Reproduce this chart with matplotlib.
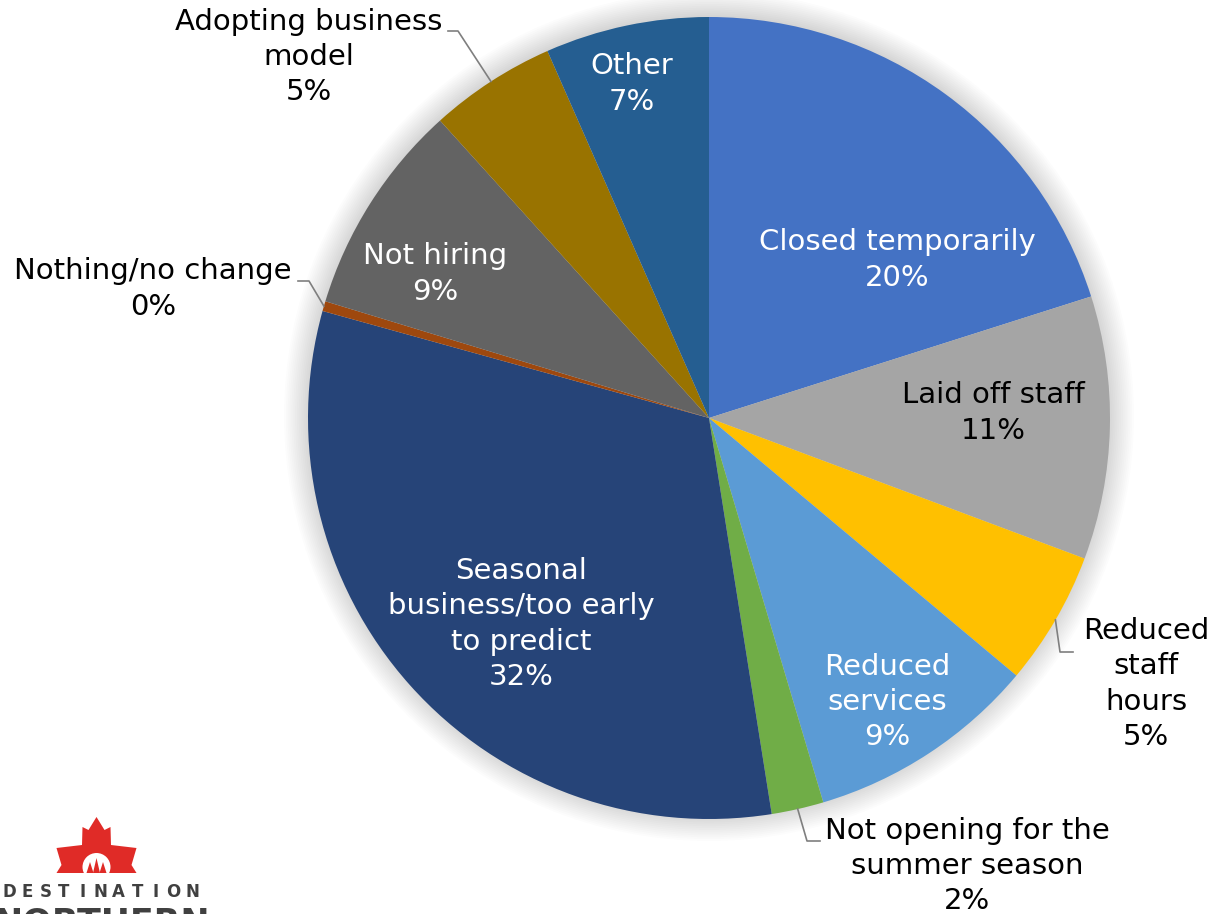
import matplotlib.pyplot as plt
import numpy as np
from matplotlib.patches import Circle, Polygon

# data
categories = ["Closed temporarily", "Laid off staff", "Reduced\nstaff\nhours",
              "Reduced\nservices", "Not opening for the\nsummer season",
              "Seasonal\nbusiness/too early\nto predict", "Nothing/no change",
              "Not hiring", "Adopting business\nmodel", "Other"]
shares = [20.1, 10.6, 5.4, 9.3, 2.1, 31.8, 0.4, 8.6, 5.1, 6.6]
colors = ["#4472C4", "#A5A5A5", "#FFC000", "#5B9BD5", "#70AD47",
          "#264478", "#9E480E", "#636363", "#997300", "#255E91"]
text_colors = ["white", "black", "black", "white", "black",
               "white", "black", "white", "black", "white"]

W, H = 1211, 914
fig = plt.figure(figsize=(W / 100, H / 100), dpi=100)
ax = fig.add_axes([0, 0, 1, 1])

cx, cy, R = 709, H - 418, 401

# soft shadow around the pie
for r in np.linspace(R + 24, R, 14):
    ax.add_patch(Circle((cx, cy + 2), r, color="k", alpha=0.012, lw=0, zorder=0))

wedges, _ = ax.pie(shares, colors=colors, startangle=90, counterclock=False,
                   center=(cx, cy), radius=R, frame=True,
                   wedgeprops=dict(linewidth=0, zorder=1))

# label layout (image pixels): text centre, plus elbow/end of leader for outside labels
label_xy = [(897, 260), (993, 413), (1146, 684), (887, 702), (967, 866),
            (521, 624), (153, 289), (435, 274), (309, 57), (632, 84)]
leaders = {2: [(1060, 652), (1073, 652)],
           4: [(807, 841), (820, 841)],
           6: [(309, 281), (298, 281)],
           8: [(458, 31), (448, 31)]}

for i, w in enumerate(wedges):
    txt = f"{categories[i]}\n{shares[i]:.0f}%"
    x, y = label_xy[i]
    ax.text(x, H - y, txt, ha="center", va="center", fontsize=21,
            color=text_colors[i], linespacing=1.34, zorder=5)
    if i in leaders:
        th = np.deg2rad((w.theta1 + w.theta2) / 2)
        pts = [(cx + R * np.cos(th), cy + R * np.sin(th))]
        pts += [(px, H - py) for px, py in leaders[i]]
        xs, ys = zip(*pts)
        ax.plot(xs, ys, color="#7F7F7F", lw=1.2, zorder=4)

# logo, bottom left
mx = 96.5
half = [(0, 817), (8, 830), (14, 827), (14.5, 845), (40, 848), (35, 865), (40, 873)]
leaf = [(mx + dx, H - y) for dx, y in half] + [(mx - dx, H - y) for dx, y in reversed(half)]
ax.add_patch(Polygon(leaf, closed=True, color="#E02B27", lw=0, zorder=6))
ax.add_patch(Circle((mx, H - 867), 14, color="white", lw=0, zorder=7))
ax.add_patch(Polygon([(mx - 16, H - 873), (mx + 16, H - 873), (mx + 16, H - 882),
                      (mx - 16, H - 882)], color="white", lw=0, zorder=7))
for tx, th in [(-6.5, 11), (0, 15), (6.5, 11)]:
    ax.add_patch(Polygon([(mx + tx - 3.5, H - 873), (mx + tx + 3.5, H - 873),
                          (mx + tx, H - 873 + th)], color="#E02B27", lw=0, zorder=8))
for k, ch in enumerate("DESTINATION"):
    ax.text(9 + k * 18.3, H - 892, ch, ha="center", va="center", fontsize=12,
            fontweight="bold", color="#404040", zorder=6)
ax.text(-6, H - 934, "NORTHERN", ha="left", va="baseline", fontsize=25,
        fontweight="bold", color="#404040", zorder=6)

ax.set_xlim(0, W)
ax.set_ylim(0, H)
ax.set_aspect("equal")
ax.axis("off")

fig.savefig("out.png", dpi=100, facecolor="white")
